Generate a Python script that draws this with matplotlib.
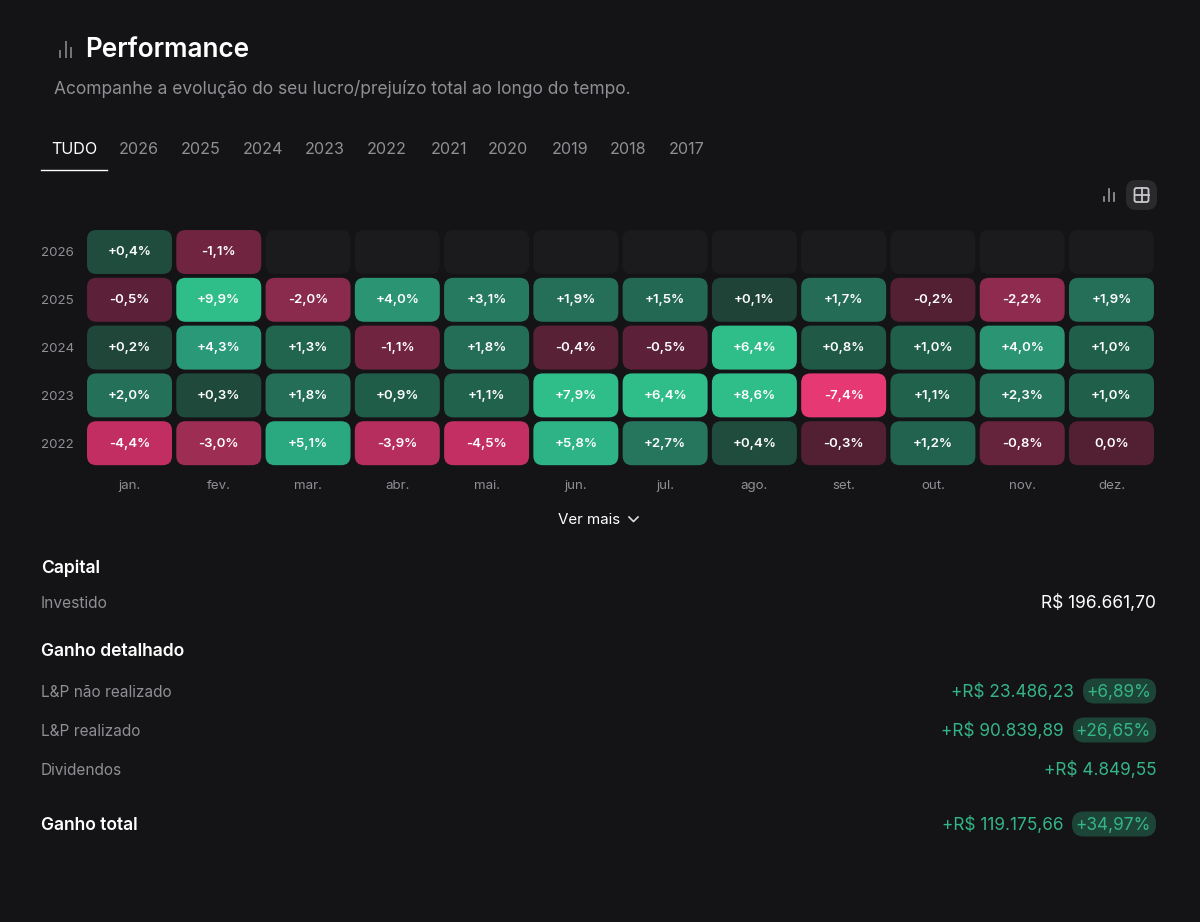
import numpy as np
import matplotlib
matplotlib.use("Agg")
import matplotlib.pyplot as plt
from matplotlib.patches import FancyBboxPatch
from matplotlib.lines import Line2D

plt.rcParams['font.family'] = ['Inter', 'DejaVu Sans']

years = ['2026', '2025', '2024', '2023', '2022']
months = ['jan.', 'fev.', 'mar.', 'abr.', 'mai.', 'jun.', 'jul.', 'ago.', 'set.', 'out.', 'nov.', 'dez.']
nan = float('nan')
returns_2026 = [0.4, -1.1, nan, nan, nan, nan, nan, nan, nan, nan, nan, nan]
returns_2025 = [-0.5, 9.9, -2.0, 4.0, 3.1, 1.9, 1.5, 0.1, 1.7, -0.2, -2.2, 1.9]
returns_2024 = [0.2, 4.3, 1.3, -1.1, 1.8, -0.4, -0.5, 6.4, 0.8, 1.0, 4.0, 1.0]
returns_2023 = [2.0, 0.3, 1.8, 0.9, 1.1, 7.9, 6.4, 8.6, -7.4, 1.1, 2.3, 1.0]
returns_2022 = [-4.4, -3.0, 5.1, -3.9, -4.5, 5.8, 2.7, 0.4, -0.3, 1.2, -0.8, 0.0]
tabs = ['TUDO', '2026', '2025', '2024', '2023', '2022', '2021', '2020', '2019', '2018', '2017']
tab_centers = [74, 139, 201, 263, 325, 387, 449, 508, 570, 628, 687]

BG = '#141416'
EMPTY = '#1b1b1d'
GRAY = '#8f8f94'
GREEN = '#35b587'
PILL = '#1c4537'

pos_stops = [0.0, 0.1, 0.4, 1.0, 1.9, 3.1, 4.0, 5.1, 6.4, 10]
pos_cols = ['#1f4337', '#1f4337', '#1f4c3d', '#20604b', '#256f58', '#267a60', '#2a9473', '#2aa880', '#2fbd8a', '#2fbd8a']
neg_stops = [0.0, 0.3, 0.5, 1.1, 2.0, 3.0, 4.4, 7.4]
neg_cols = ['#532033', '#532033', '#5c2138', '#702440', '#8a2a4c', '#9e2d54', '#c22e62', '#e63872']


def cell_colour(v):
    stops, cols = (pos_stops, pos_cols) if v > 0 else (neg_stops, neg_cols)
    rgb = np.array([matplotlib.colors.to_rgb(c) for c in cols])
    return tuple(np.interp(abs(v), stops, rgb[:, k]) for k in range(3))


def cell_label(v):
    s = f'{abs(v):.1f}%'.replace('.', ',')
    return s if v == 0 else ('+' if v > 0 else '-') + s


W, H = 1200, 922
fig = plt.figure(figsize=(12, 9.22), dpi=100, facecolor=BG)

# overlay in pixel coordinates for page furniture
page = fig.add_axes([0, 0, 1, 1], facecolor=BG)
page.set_xlim(0, W)
page.set_ylim(H, 0)
page.axis('off')

# heatmap axes
x0, x1 = 84.87, 1156.1
y0, y1 = 228.1, 467.1
ax = fig.add_axes([x0 / W, 1 - y1 / H, (x1 - x0) / W, (y1 - y0) / H])
ax.patch.set_alpha(0)
ax.set_xlim(-0.5, 11.5)
ax.set_ylim(4.5, -0.5)
ax.set_xticks(range(12), months)
ax.set_yticks(range(5), years)
ax.tick_params(length=0, colors=GRAY, labelsize=9.6)
ax.tick_params(axis='x', pad=9.5)
for lbl in ax.get_yticklabels():
    lbl.set_horizontalalignment('left')
    lbl.set_x(-0.0365)
for s in ax.spines.values():
    s.set_visible(False)

cw, ch = 0.952, 0.92
aspect = ((x1 - x0) / 12) / ((y1 - y0) / 5)
rows = [returns_2026, returns_2025, returns_2024, returns_2023, returns_2022]
for r, row in enumerate(rows):
    for c, v in enumerate(row):
        empty = np.isnan(v)
        ax.add_patch(FancyBboxPatch((c - cw / 2, r - ch / 2), cw, ch,
                                    boxstyle='round,pad=0,rounding_size=0.105',
                                    mutation_aspect=aspect, lw=0,
                                    fc=EMPTY if empty else cell_colour(v)))
        if not empty:
            ax.text(c, r + 0.01, cell_label(v), ha='center', va='center',
                    color='white', fontsize=9.5, fontweight='semibold')


def txt(x, y, s, **kw):
    kw.setdefault('va', 'center')
    page.text(x, y + 1, s, **kw)


def bars_icon(x, base, color, lw=1.4, step=5.5, hs=(6, 15, 9)):
    for i, h in enumerate(hs):
        page.add_line(Line2D([x + i * step, x + i * step], [base, base - h], color=color, lw=lw))


# header
bars_icon(60, 57, '#77777b')
txt(85, 49, 'Performance', color='white', fontsize=18.8, fontweight='semibold')
txt(54, 88, 'Acompanhe a evolução do seu lucro/prejuízo total ao longo do tempo.', color=GRAY, fontsize=12.5)

# tabs
for i, (t, cx) in enumerate(zip(tabs, tab_centers)):
    txt(cx, 149, t, color='white' if i == 0 else GRAY, fontsize=11.6, ha='center')
page.add_line(Line2D([41, 107], [170.5, 170.5], color='white', lw=1.0))

# view switch
bars_icon(1103.5, 201.5, '#9a9a9e', lw=1.2, step=5, hs=(4, 12.5, 8))
page.add_patch(FancyBboxPatch((1126, 180), 31, 30, boxstyle='round,pad=0,rounding_size=10', lw=0, fc='#2a2a2d'))
page.add_patch(FancyBboxPatch((1134.5, 188), 14, 14, boxstyle='round,pad=0,rounding_size=2', lw=1.3, ec='#c8c8cc', fc='none'))
page.add_line(Line2D([1141.5, 1141.5], [188, 202], color='#c8c8cc', lw=1.3))
page.add_line(Line2D([1134.5, 1148.5], [195, 195], color='#c8c8cc', lw=1.3))

# ver mais
txt(589, 519, 'Ver mais', color='white', fontsize=10.9, ha='center')
page.add_line(Line2D([629, 633.5, 638], [517, 521.5, 517], color='#dddddd', lw=1.2))

# details
txt(41, 567, 'Capital', color='white', fontsize=12.6, fontweight='semibold')
txt(41, 602, 'Investido', color=GRAY, fontsize=11.2)
txt(1156, 602, 'R$ 196.661,70', color='white', fontsize=12.5, ha='right')
txt(41, 650, 'Ganho detalhado', color='white', fontsize=12.6, fontweight='semibold')
txt(41, 824, 'Ganho total', color='white', fontsize=12.6, fontweight='semibold')

detail_labels = ['L&P não realizado', 'L&P realizado', 'Dividendos']
detail_y = [691, 730, 769]
detail_vals = ['+R$ 23.486,23', '+R$ 90.839,89', '+R$ 4.849,55']
detail_pcts = ['+6,89%', '+26,65%', None]
pill_left = [1083, 1073, None]
for lab, y, val, pct, pl in zip(detail_labels, detail_y, detail_vals, detail_pcts, pill_left):
    txt(41, y, lab, color=GRAY, fontsize=11.1)
    if pct:
        page.add_patch(FancyBboxPatch((pl, y - 12.5), 1156 - pl, 25, boxstyle='round,pad=0,rounding_size=11.5', lw=0, fc=PILL))
        txt(1151, y, pct, color=GREEN, fontsize=12.4, ha='right')
        txt(pl - 9, y, val, color=GREEN, fontsize=12.4, ha='right')
    else:
        txt(1156, y, val, color=GREEN, fontsize=12.4, ha='right')
page.add_patch(FancyBboxPatch((1072, 811.5), 84, 25, boxstyle='round,pad=0,rounding_size=11.5', lw=0, fc=PILL))
txt(1151, 824, '+34,97%', color=GREEN, fontsize=12.4, ha='right')
txt(1064, 824, '+R$ 119.175,66', color=GREEN, fontsize=12.4, ha='right')

fig.savefig('out.png', dpi=100, facecolor=BG)
